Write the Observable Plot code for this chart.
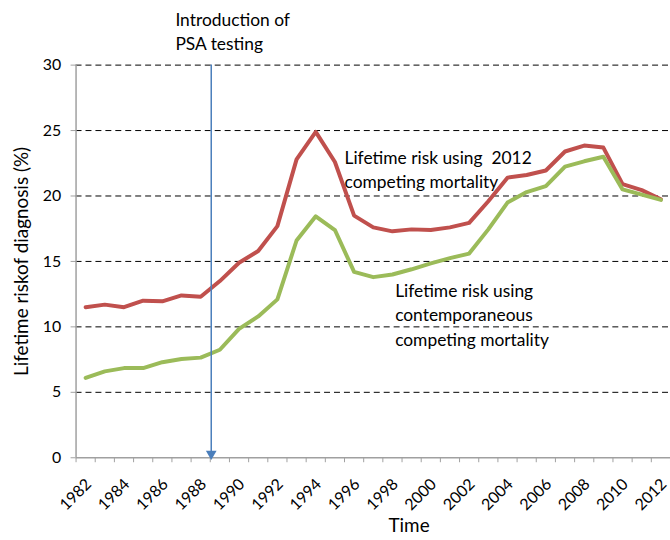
<!DOCTYPE html>
<html><head><meta charset="utf-8">
<script src="https://cdn.jsdelivr.net/npm/d3@7"></script>
<script src="https://cdn.jsdelivr.net/npm/@observablehq/plot@0.6"></script>
<style>html,body{margin:0;padding:0;overflow:hidden;background:#fff} svg{display:block}</style>
</head><body><div id="chart"></div>
<script>
const years = [1982,1983,1984,1985,1986,1987,1988,1989,1990,1991,1992,1993,1994,1995,1996,1997,1998,1999,2000,2001,2002,2003,2004,2005,2006,2007,2008,2009,2010,2011,2012];
const risk2012Mortality = [11.5,11.7,11.5,12.0,11.95,12.4,12.3,13.5,14.9,15.8,17.7,22.8,24.9,22.6,18.5,17.6,17.3,17.45,17.4,17.6,17.95,19.6,21.4,21.6,21.95,23.4,23.85,23.7,20.9,20.45,19.75];
const riskContemporaneous = [6.1,6.6,6.85,6.85,7.3,7.55,7.65,8.25,9.85,10.8,12.1,16.6,18.45,17.4,14.2,13.8,14.0,14.4,14.85,15.25,15.6,17.45,19.5,20.3,20.75,22.25,22.65,23.0,20.5,20.1,19.7];
const yTicks = [0,5,10,15,20,25,30];
const gridValues = [5,10,15,20,25,30];
const xTickLabels = [1982,1984,1986,1988,1990,1992,1994,1996,1998,2000,2002,2004,2006,2008,2010,2012];
const psaYear = 1988.55;
const annotations = [
  {x: 1986.68, y: 34.3, text: "Introduction of\nPSA testing"},
  {x: 1995.5, y: 23.8, text: "Lifetime risk using  2012\ncompeting mortality"},
  {x: 1998.14, y: 13.6, text: "Lifetime risk using\ncontemporaneous\ncompeting mortality"}
];
const yLabel = "Lifetime riskof diagnosis (%)";
const xLabel = "Time";

const red = "#C0504D", green = "#9BBB59", blue = "#4A7EBB", axisGray = "#A0A0A0";
const boundaries = years.map(y => y - 0.5).concat([years[years.length-1] + 0.5]);
const redData = years.map((y,i) => ({year: y, v: risk2012Mortality[i]}));
const greenData = years.map((y,i) => ({year: y, v: riskContemporaneous[i]}));

const chart = Plot.plot({
  width: 674, height: 540,
  marginLeft: 76, marginRight: 0, marginTop: 65, marginBottom: 80,
  style: {fontFamily: "Lato, 'Open Sans', sans-serif", background: "#fff", color: "black"},
  x: {type: "linear", domain: [1981.5, 2012.5]},
  y: {domain: [0, 30]},
  marks: [
    Plot.ruleY(gridValues, {stroke: "black", strokeDasharray: "6,4", strokeWidth: 1}),
    Plot.ruleY([0], {stroke: axisGray, strokeWidth: 1.5}),
    Plot.ruleX([1981.5], {y1: 0, y2: 30, stroke: axisGray, strokeWidth: 1.5}),
    Plot.axisY({ticks: yTicks, tickSize: 5, tickPadding: 10, fontSize: 16, stroke: axisGray, fill: "black", label: null}),
    Plot.axisX({ticks: boundaries, tickSize: 5, tickFormat: () => "", stroke: axisGray, label: null}),
    Plot.text(xTickLabels, {x: d => d, frameAnchor: "bottom", text: d => String(d), rotate: -45, textAnchor: "end", lineAnchor: "middle", dx: 3, dy: 24, fontSize: 16, fill: "black"}),
    Plot.line(redData, {x: "year", y: "v", stroke: red, strokeWidth: 4, strokeLinejoin: "round"}),
    Plot.line(greenData, {x: "year", y: "v", stroke: green, strokeWidth: 4, strokeLinejoin: "round"}),
    Plot.ruleX([psaYear], {y1: 30, y2: 0, stroke: blue, strokeWidth: 1.5}),
    Plot.dot([psaYear], {x: d => d, y: 0, symbol: "triangle", rotate: 180, r: 4, fill: blue, stroke: null, dy: -4}),
    Plot.text(annotations, {x: "x", y: "y", text: "text", textAnchor: "start", lineAnchor: "top", lineHeight: 1.4, fontSize: 17.5, fill: "black"}),
    Plot.text([yLabel], {text: d => d, frameAnchor: "left", textAnchor: "middle", lineAnchor: "middle", rotate: -90, dx: -54, fontSize: 19, fill: "black"}),
    Plot.text([xLabel], {text: d => d, frameAnchor: "bottom", textAnchor: "middle", lineAnchor: "middle", dx: 36, dy: 69, fontSize: 19, fill: "black"})
  ]
});
document.getElementById("chart").appendChild(chart);
</script>
</body></html>
